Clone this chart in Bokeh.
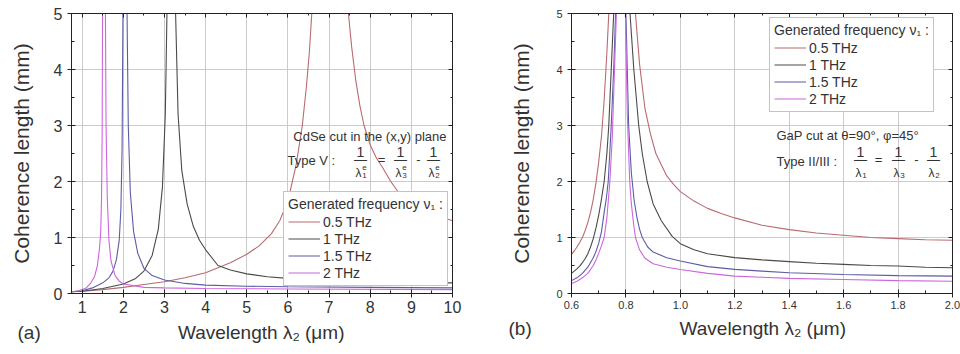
from bokeh.plotting import figure
from bokeh.layouts import row
from bokeh.models import (Range1d, Legend, LegendItem, Label, LinearAxis,
                          FixedTicker, PrintfTickFormatter, Title)
from bokeh.embed import file_html
from bokeh.resources import INLINE

# ---------------- data ----------------
series_labels = ["0.5 THz", "1 THz", "1.5 THz", "2 THz"]
series_colors = ["#b86b70", "#4a4a4a", "#5c5ca6", "#cc66dd"]

# Panel (a): CdSe, wavelength lambda2 (um) vs coherence length (mm)
a_x_05 = [0.74, 1.0, 1.5, 2.0, 2.5, 3.0, 3.5, 4.0, 4.3, 4.6, 5.0, 5.3, 5.6, 5.8, 6.0,
          6.2, 6.35, 6.45, 6.52, 6.58, 7.05, 7.47, 7.55, 7.65, 7.75, 7.85, 8.0, 8.15,
          8.3, 8.5, 8.74, 9.0, 9.3, 9.6, 10.0]
a_y_05 = [0.03, 0.04, 0.07, 0.11, 0.16, 0.21, 0.28, 0.37, 0.46, 0.55, 0.70, 0.85, 1.07, 1.3, 1.65,
          2.3, 3.0, 3.7, 4.3, 5.0, 40.0, 5.0, 4.4, 3.8, 3.35, 3.0, 2.65, 2.42,
          2.25, 2.0, 1.75, 1.62, 1.5, 1.4, 1.3]

a_x_1 = [0.74, 1.0, 1.5, 2.0, 2.3, 2.5, 2.7, 2.85, 2.95, 3.02, 3.06, 3.17, 3.27, 3.33, 3.42,
         3.55, 3.7, 3.85, 4.0, 4.3, 4.6, 5.0, 5.5, 6.0, 7.0, 8.0, 9.0, 10.0]
a_y_1 = [0.03, 0.04, 0.09, 0.17, 0.27, 0.40, 0.68, 1.15, 1.9, 3.2, 5.0, 40.0, 5.0, 3.2, 2.2,
         1.6, 1.2, 0.95, 0.78, 0.50, 0.42, 0.35, 0.30, 0.27, 0.23, 0.21, 0.20, 0.19]

a_x_15 = [0.74, 1.0, 1.25, 1.5, 1.65, 1.75, 1.83, 1.9, 1.94, 1.97, 1.99, 2.04, 2.09, 2.12,
          2.17, 2.25, 2.35, 2.5, 2.7, 3.0, 3.5, 4.0, 5.0, 6.0, 8.0, 10.0]
a_y_15 = [0.03, 0.05, 0.10, 0.19, 0.28, 0.40, 0.60, 0.95, 1.5, 2.6, 5.0, 40.0, 5.0, 3.0,
          1.8, 1.1, 0.72, 0.45, 0.32, 0.24, 0.18, 0.15, 0.13, 0.12, 0.11, 0.10]

a_x_2 = [0.74, 0.9, 1.0, 1.1, 1.2, 1.3, 1.37, 1.42, 1.45, 1.47, 1.485, 1.495, 1.53, 1.565,
         1.58, 1.61, 1.65, 1.7, 1.8, 1.9, 2.0, 2.5, 3.0, 4.0, 6.0, 10.0]
a_y_2 = [0.03, 0.05, 0.07, 0.10, 0.18, 0.30, 0.50, 0.80, 1.1, 1.7, 2.8, 5.0, 40.0, 5.0,
         3.0, 1.7, 0.95, 0.58, 0.32, 0.22, 0.17, 0.11, 0.10, 0.09, 0.08, 0.07]

# Panel (b): GaP
b_x_05 = [0.6, 0.61, 0.62, 0.63, 0.64, 0.65, 0.66, 0.67, 0.68, 0.69, 0.70, 0.71, 0.72, 0.73,
          0.737, 0.785, 0.835, 0.85, 0.87, 0.89, 0.91, 0.93, 0.95, 0.975, 1.0, 1.05, 1.1,
          1.15, 1.2, 1.3, 1.4, 1.5, 1.6, 1.7, 1.8, 1.9, 2.0]
b_y_05 = [0.70, 0.76, 0.83, 0.91, 1.0, 1.12, 1.27, 1.45, 1.68, 1.98, 2.35, 2.8, 3.45, 4.3,
          5.0, 40.0, 5.0, 4.1, 3.3, 2.85, 2.5, 2.3, 2.1, 1.95, 1.82, 1.65, 1.52,
          1.43, 1.35, 1.22, 1.14, 1.08, 1.04, 1.0, 0.98, 0.96, 0.95]

b_x_1 = [0.6, 0.61, 0.62, 0.63, 0.64, 0.65, 0.66, 0.67, 0.68, 0.69, 0.70, 0.71, 0.72, 0.73,
         0.737, 0.746, 0.755, 0.78, 0.815, 0.829, 0.847, 0.86, 0.878, 0.9, 0.93, 0.97, 1.0,
         1.05, 1.1, 1.2, 1.3, 1.4, 1.5, 1.6, 1.7, 1.8, 1.9, 2.0]
b_y_1 = [0.36, 0.40, 0.44, 0.49, 0.55, 0.62, 0.71, 0.83, 0.98, 1.17, 1.4, 1.68, 2.0, 2.5,
         3.0, 4.0, 5.0, 40.0, 5.0, 4.0, 3.0, 2.5, 2.0, 1.6, 1.3, 1.02, 0.89,
         0.78, 0.71, 0.64, 0.60, 0.57, 0.54, 0.52, 0.50, 0.49, 0.47, 0.46]

b_x_15 = [0.6, 0.62, 0.64, 0.66, 0.68, 0.69, 0.70, 0.71, 0.72, 0.728, 0.735, 0.746, 0.755,
          0.762, 0.785, 0.80, 0.81, 0.82, 0.83, 0.84, 0.85, 0.86, 0.88, 0.9, 0.95, 1.0,
          1.1, 1.2, 1.3, 1.4, 1.6, 1.8, 2.0]
b_y_15 = [0.23, 0.28, 0.36, 0.47, 0.64, 0.75, 0.90, 1.1, 1.45, 1.7, 2.0, 3.0, 4.0,
          5.0, 40.0, 5.0, 3.0, 2.15, 1.67, 1.37, 1.15, 1.0, 0.83, 0.74, 0.64, 0.58,
          0.48, 0.43, 0.40, 0.37, 0.34, 0.32, 0.31]

b_x_2 = [0.6, 0.62, 0.64, 0.66, 0.68, 0.69, 0.70, 0.71, 0.72, 0.73, 0.741, 0.75, 0.758,
         0.765, 0.785, 0.798, 0.805, 0.814, 0.82, 0.828, 0.835, 0.85, 0.87, 0.9, 0.95,
         1.0, 1.1, 1.2, 1.3, 1.4, 1.6, 1.8, 2.0]
b_y_2 = [0.18, 0.22, 0.28, 0.36, 0.50, 0.60, 0.72, 0.85, 1.0, 1.35, 2.0, 2.8, 4.0,
         5.0, 40.0, 5.0, 3.2, 2.0, 1.6, 1.25, 1.0, 0.78, 0.63, 0.53, 0.47,
         0.43, 0.36, 0.31, 0.29, 0.27, 0.25, 0.23, 0.22]

a_xticks = [1, 2, 3, 4, 5, 6, 7, 8, 9, 10]
a_xminor = [1.5, 2.5, 3.5, 4.5, 5.5, 6.5, 7.5, 8.5, 9.5]
b_xticks = [0.6, 0.8, 1.0, 1.2, 1.4, 1.6, 1.8, 2.0]
b_xminor = [0.7, 0.9, 1.1, 1.3, 1.5, 1.7, 1.9]
yticks = [0, 1, 2, 3, 4, 5]
yminor = [0.5, 1.5, 2.5, 3.5, 4.5]

FONT = "Liberation Sans"
TXT = "#333333"
NB = "\u00a0"
X_LABEL = "Wavelength λ₂ (μm)"


def make_panel(xr, xt, xm, bl, br, tick_fs, xfmt, tag, tag_offset, gap):
    p = figure(frame_width=381, frame_height=280,
               x_range=Range1d(*xr), y_range=Range1d(0, 5),
               min_border_left=bl, min_border_right=br,
               min_border_top=13, min_border_bottom=61,
               output_backend="svg", toolbar_location=None)
    p.outline_line_color = "#222222"
    p.background_fill_color = "white"
    p.border_fill_color = "white"
    p.xaxis.ticker = FixedTicker(ticks=xt, minor_ticks=xm)
    p.yaxis.ticker = FixedTicker(ticks=yticks, minor_ticks=yminor)
    if xfmt:
        p.xaxis.formatter = PrintfTickFormatter(format=xfmt)
    for ax in (p.xaxis[0], p.yaxis[0]):
        ax.axis_line_color = "#222222"
        ax.major_tick_line_color = "#222222"
        ax.minor_tick_line_color = "#222222"
        ax.major_tick_in = 4
        ax.major_tick_out = 4
        ax.minor_tick_in = 3
        ax.minor_tick_out = 0
        ax.major_label_text_font = FONT
        ax.major_label_text_font_size = tick_fs
        ax.major_label_text_color = TXT
        ax.axis_label_text_font = FONT
        ax.axis_label_text_font_style = "normal"
        ax.axis_label_text_color = TXT
    p.xaxis.major_label_standoff = 3
    p.yaxis.axis_label = "Coherence length (mm)"
    p.yaxis.axis_label_text_font_size = "21px"
    p.grid.grid_line_color = "#cccccc"
    p.grid.grid_line_width = 1

    # panel tag and x-axis title share one row under the axis
    p.add_layout(Title(text=tag + NB * gap + X_LABEL, align="left", offset=tag_offset,
                       standoff=8, text_font=FONT, text_font_size="19px",
                       text_font_style="normal", text_color=TXT), "below")

    # mirror axes with inward ticks and no labels
    for side, tks, mn in (("above", xt, xm), ("right", yticks, yminor)):
        ax = LinearAxis(ticker=FixedTicker(ticks=tks, minor_ticks=mn),
                        major_label_overrides={t: "" for t in tks})
        ax.major_label_standoff = 0
        ax.major_tick_in = 4
        ax.major_tick_out = 0
        ax.minor_tick_in = 2
        ax.minor_tick_out = 0
        ax.axis_line_color = "#222222"
        ax.major_tick_line_color = "#222222"
        ax.minor_tick_line_color = "#222222"
        p.add_layout(ax, side)
    return p


def add_lines(p, xs, ys, legend_loc):
    items = []
    for x, y, lab_, col in zip(xs, ys, series_labels, series_colors):
        r = p.line(x, y, line_color=col, line_width=1.1)
        items.append(LegendItem(label=lab_, renderers=[r]))
    leg = Legend(items=items, location=legend_loc,
                 title="Generated frequency ν₁ :",
                 title_text_font=FONT, title_text_font_style="normal",
                 title_text_font_size="14px", title_text_color=TXT,
                 title_standoff=1,
                 label_text_font=FONT, label_text_font_size="14px",
                 label_text_color=TXT, label_standoff=3,
                 glyph_width=32, glyph_height=17, label_height=17,
                 spacing=0, padding=4, margin=0,
                 border_line_color="#888888", border_line_width=1,
                 background_fill_color="white", background_fill_alpha=1.0)
    p.add_layout(leg)


def lab(p, text, x, y, fs="13px", align="left", baseline="middle"):
    p.add_layout(Label(x=x, y=y, x_units="screen", y_units="screen", text=text,
                       text_font=FONT, text_font_size=fs, text_color=TXT,
                       text_align=align, text_baseline=baseline))


def fraction(p, cx, top_y, sub):
    lab(p, "1", cx, top_y, fs="14px", align="center")
    lab(p, "—", cx, top_y - 8, fs="13px", align="center")
    lab(p, "λ", cx - 2, top_y - 21, fs="12px", align="center")
    lab(p, sub, cx + 4, top_y - 24, fs="8px", align="center")


# ---------------- panel (a) ----------------
pa = make_panel((0.74, 10), a_xticks, a_xminor, 71, 28, "16px", None, "(a)", -54, 26)
add_lines(pa, [a_x_05, a_x_1, a_x_15, a_x_2], [a_y_05, a_y_1, a_y_15, a_y_2], (212, 7))
pa.yaxis.axis_label_standoff = 18
lab(pa, "CdSe cut in the (x,y) plane", 375, 157, fs="13px", align="right")
lab(pa, "Type V :", 216, 133, fs="13px")
for cx, s in ((289, "1"), (329, "3"), (362, "2")):
    fraction(pa, cx, 142, s)
    lab(pa, "e", cx + 4, 126, fs="8px", align="center")
lab(pa, "=", 310, 134, fs="13px", align="center")
lab(pa, "-", 347, 134, fs="13px", align="center")

# ---------------- panel (b) ----------------
pb = make_panel((0.6, 2.0), b_xticks, b_xminor, 91, 8, "11px", "%.1f", "(b)", -63, 28)
add_lines(pb, [b_x_05, b_x_1, b_x_15, b_x_2], [b_y_05, b_y_1, b_y_15, b_y_2], (198, 181))
pb.yaxis.axis_label_standoff = 20
lab(pb, "GaP cut at θ=90°, φ=45°", 205, 158, fs="13px")
lab(pb, "Type II/III :", 205, 132, fs="13px")
for cx, s in ((289, "1"), (327, "3"), (362, "2")):
    fraction(pb, cx, 142, s)
lab(pb, "=", 307, 134, fs="13px", align="center")
lab(pb, "-", 345, 134, fs="13px", align="center")

layout = row(pa, pb, spacing=0)
open("out.html", "w").write(file_html(layout, INLINE))
